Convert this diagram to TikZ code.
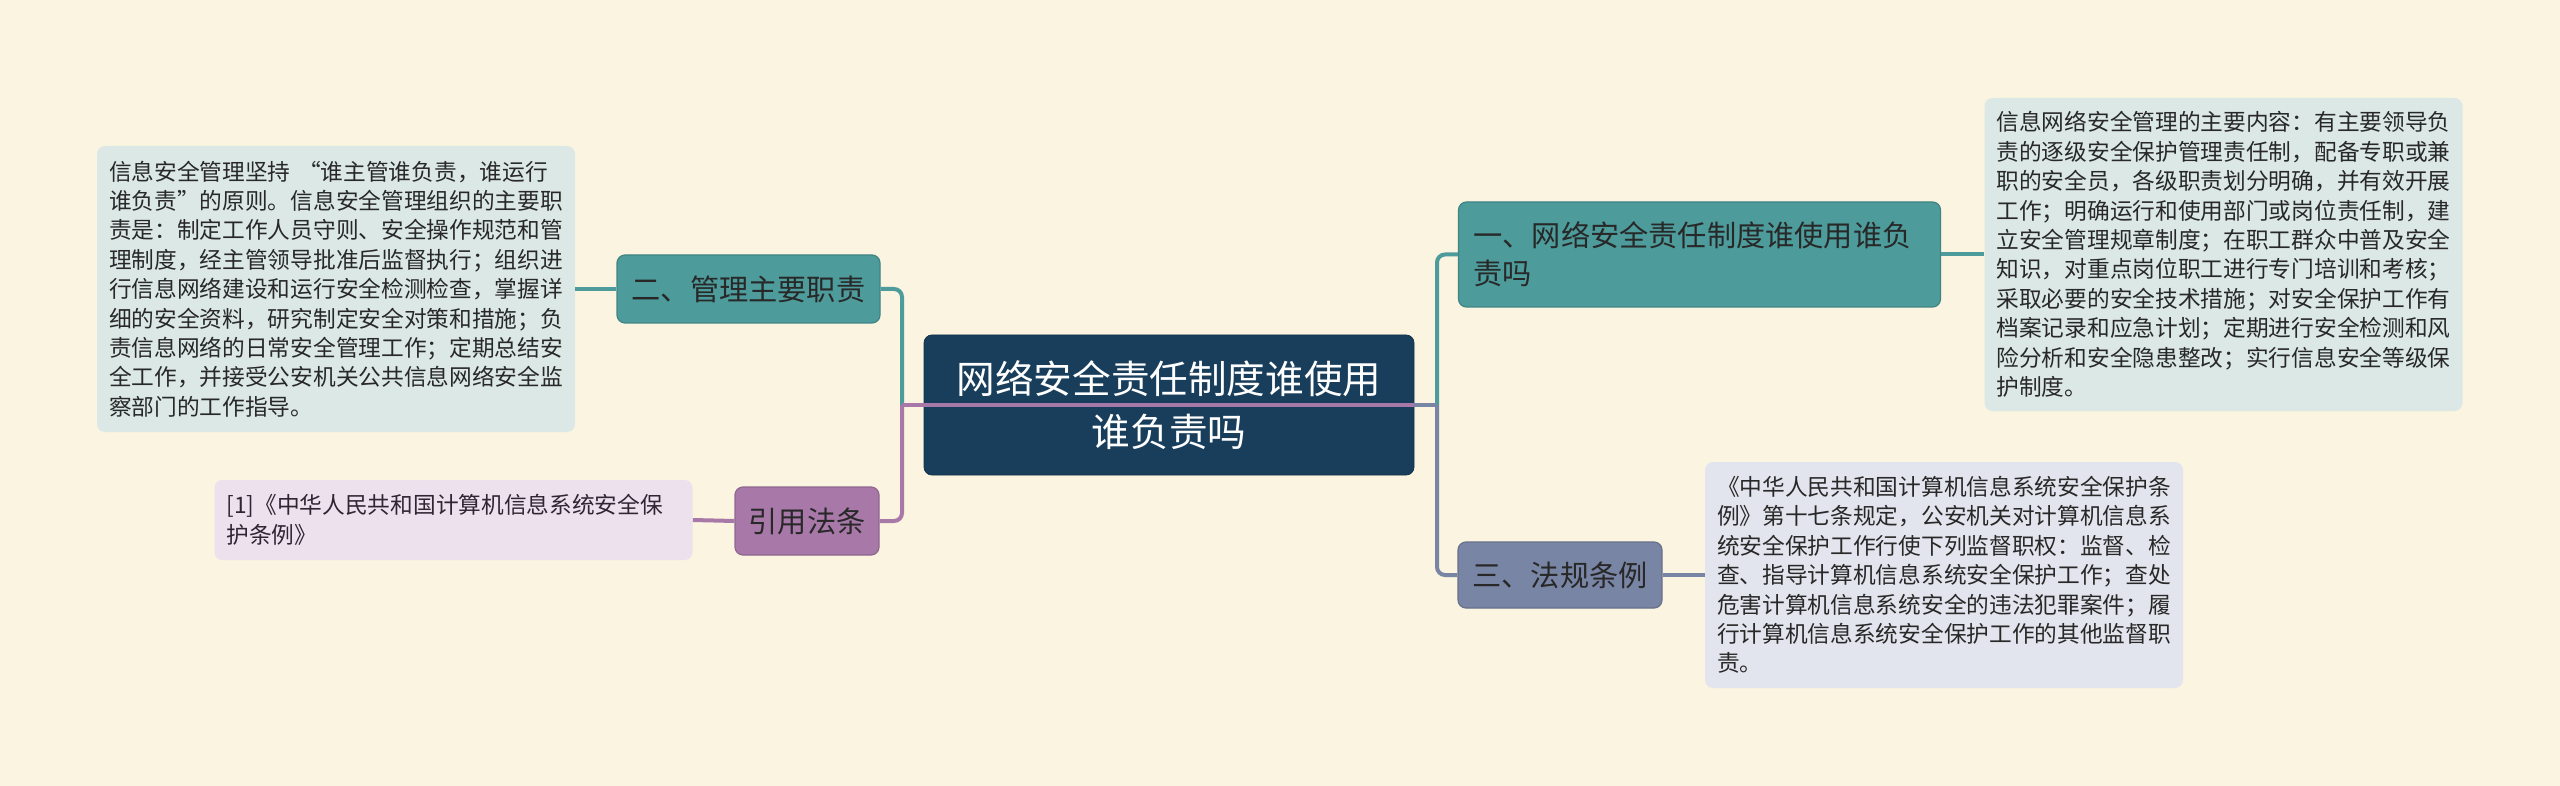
\documentclass[tikz,border=0pt]{standalone}
\usepackage{fontspec}
\setmainfont{Noto Sans CJK SC}
\definecolor{paper}{RGB}{250,244,224}
\definecolor{rootBlue}{RGB}{24,62,92}
\definecolor{mapTeal}{RGB}{77,155,155}
\definecolor{mapTealLight}{RGB}{219,232,230}
\definecolor{mapPurple}{RGB}{168,121,168}
\definecolor{mapPurpleLight}{RGB}{236,225,236}
\definecolor{mapSlate}{RGB}{121,133,165}
\definecolor{mapSlateLight}{RGB}{226,229,237}
\definecolor{inkDark}{RGB}{40,40,40}

\begin{document}
\begin{tikzpicture}[
    x=0.5pt, y=-0.5pt,
    root/.style={fill=rootBlue, draw=rootBlue!80!black, rounded corners=4pt, minimum width=245pt,
                 minimum height=70pt, align=center, text=white, font=\fontsize{19.3}{26.5}\selectfont},
    branch/.style={rounded corners=4pt, minimum height=33pt, align=center, text=inkDark,
                   line width=0.6pt, font=\fontsize{14.6}{19}\selectfont},
    leaf/.style={rounded corners=4pt, align=left, text=inkDark, text width=227pt, inner xsep=6pt,
                 font=\fontsize{11.35}{14.7}\selectfont},
    link/.style={line width=2pt, rounded corners=4pt}
  ]
    \useasboundingbox (0,0) rectangle (2560,786);
    \fill[paper] (0,0) rectangle (2560,786);

    % Root
    \node[root] (root) at (1169,405) {网络安全责任制度谁使用\\谁负责吗};

    % Left branches
    \node[branch, fill=mapTeal, draw=mapTeal!85!black, minimum width=131.5pt, minimum height=34pt] (duty) at (748.5,289) {二、管理主要职责};
    \node[branch, fill=mapPurple, draw=mapPurple!85!black, minimum width=72pt, minimum height=34pt] (cite) at (807,521) {引用法条};

    % Right branches
    \node[branch, fill=mapTeal, draw=mapTeal!85!black, text width=226pt, align=left, inner xsep=7.5pt,
          minimum height=52.5pt] (resp) at (1699.5,254.5) {一、网络安全责任制度谁使用谁负\\责吗};
    \node[branch, fill=mapSlate, draw=mapSlate!85!black, minimum width=102pt] (law) at (1560,575) {三、法规条例};

    % Leaves
    \node[leaf, fill=mapTealLight, minimum height=143pt] (dutytxt) at (336,289) {信息安全管理坚持 “谁主管谁负责，谁运行\\谁负责”的原则。信息安全管理组织的主要职\\责是：制定工作人员守则、安全操作规范和管\\理制度，经主管领导批准后监督执行；组织进\\行信息网络建设和运行安全检测检查，掌握详\\细的安全资料，研究制定安全对策和措施；负\\责信息网络的日常安全管理工作；定期总结安\\全工作，并接受公安机关公共信息网络安全监\\察部门的工作指导。};
    \node[leaf, fill=mapPurpleLight, text=mapPurple!30!black, minimum height=40pt] (citetxt) at (453.5,520) {[1]《中华人民共和国计算机信息系统安全保\\护条例》};
    \node[leaf, fill=mapTealLight, minimum height=156.5pt] (resptxt) at (2223.5,254.5) {信息网络安全管理的主要内容：有主要领导负\\责的逐级安全保护管理责任制，配备专职或兼\\职的安全员，各级职责划分明确，并有效开展\\工作；明确运行和使用部门或岗位责任制，建\\立安全管理规章制度；在职工群众中普及安全\\知识，对重点岗位职工进行专门培训和考核；\\采取必要的安全技术措施；对安全保护工作有\\档案记录和应急计划；定期进行安全检测和风\\险分析和安全隐患整改；实行信息安全等级保\\护制度。};
    \node[leaf, fill=mapSlateLight, minimum height=113pt] (lawtxt) at (1944,575) {《中华人民共和国计算机信息系统安全保护条\\例》第十七条规定，公安机关对计算机信息系\\统安全保护工作行使下列监督职权：监督、检\\查、指导计算机信息系统安全保护工作；查处\\危害计算机信息系统安全的违法犯罪案件；履\\行计算机信息系统安全保护工作的其他监督职\\责。};

    % Junctions
    \coordinate (ljoin) at (902,405);
    \coordinate (rjoin) at (1437,405);

    % Links
    \draw[link, mapTeal] (ljoin) |- (duty.east);
    \draw[link, mapPurple] (ljoin) |- (cite.east);
    \draw[link, mapPurple] (root.east) -- (ljoin);
    \draw[link, mapTeal] (rjoin) |- (resp.west);
    \draw[link, mapSlate] (rjoin) |- (law.west);
    \draw[link, mapSlate] (root.east) -- (rjoin);

    \draw[link, mapTeal] (duty.west) -- (dutytxt.east);
    \draw[link, mapPurple] (cite.west) -- (citetxt.east);
    \draw[link, mapTeal] (resp.east) -- (resptxt.west);
    \draw[link, mapSlate] (law.east) -- (lawtxt.west);
  \end{tikzpicture}
\end{document}
